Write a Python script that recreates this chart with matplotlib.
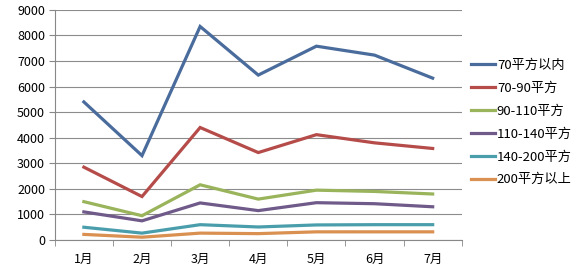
import matplotlib.pyplot as plt

plt.rcParams['font.family'] = ['Noto Sans CJK SC', 'DejaVu Sans']

months = ['1月', '2月', '3月', '4月', '5月', '6月', '7月']
labels = ['70平方以内', '70-90平方', '90-110平方', '110-140平方', '140-200平方', '200平方以上']

s_70 = [5400, 3300, 8350, 6450, 7580, 7230, 6330]
s_70_90 = [2850, 1700, 4400, 3420, 4120, 3800, 3580]
s_90_110 = [1500, 950, 2160, 1600, 1950, 1900, 1800]
s_110_140 = [1100, 750, 1450, 1150, 1460, 1420, 1300]
s_140_200 = [500, 270, 600, 510, 590, 600, 600]
s_200 = [220, 110, 270, 250, 320, 320, 320]

series = [s_70, s_70_90, s_90_110, s_110_140, s_140_200, s_200]
colors = ['#4a6c9c', '#b54c4a', '#99b45a', '#6f5a8a', '#4a9eab', '#d99050']

fig = plt.figure(figsize=(5.83, 2.74), dpi=100)
ax = fig.add_axes([0.094, 0.124, 0.698, 0.84])

x = list(range(len(months)))
for vals, c, lab in zip(series, colors, labels):
    ax.plot(x, vals, color=c, lw=2.3, label=lab, solid_joinstyle='miter')

ax.set_ylim(0, 9000)
ax.set_yticks(range(0, 9001, 1000))
ax.set_xlim(-0.5, len(months) - 0.5)
ax.set_xticks(x)
ax.set_xticklabels(months)
ax.set_xticks([i - 0.5 for i in range(len(months) + 1)], minor=True)
ax.tick_params(axis='x', which='major', length=0, pad=9, labelsize=9)
ax.tick_params(axis='x', which='minor', length=4, color='#888888', direction='out')
ax.tick_params(axis='y', length=4, color='#888888', labelsize=9, pad=3)
ax.grid(axis='y', color='#8c8c8c', lw=0.8)
ax.set_axisbelow(True)
for sp in ['top', 'right']:
    ax.spines[sp].set_visible(False)
for sp in ['left', 'bottom']:
    ax.spines[sp].set_color('#888888')
    ax.spines[sp].set_linewidth(0.8)

ax.legend(loc='upper left', bbox_to_anchor=(1.01, 0.81), frameon=False,
          fontsize=9.5, handlelength=1.85, handletextpad=0.1,
          labelspacing=0.75, borderaxespad=0)

fig.savefig('out.png', dpi=100)
